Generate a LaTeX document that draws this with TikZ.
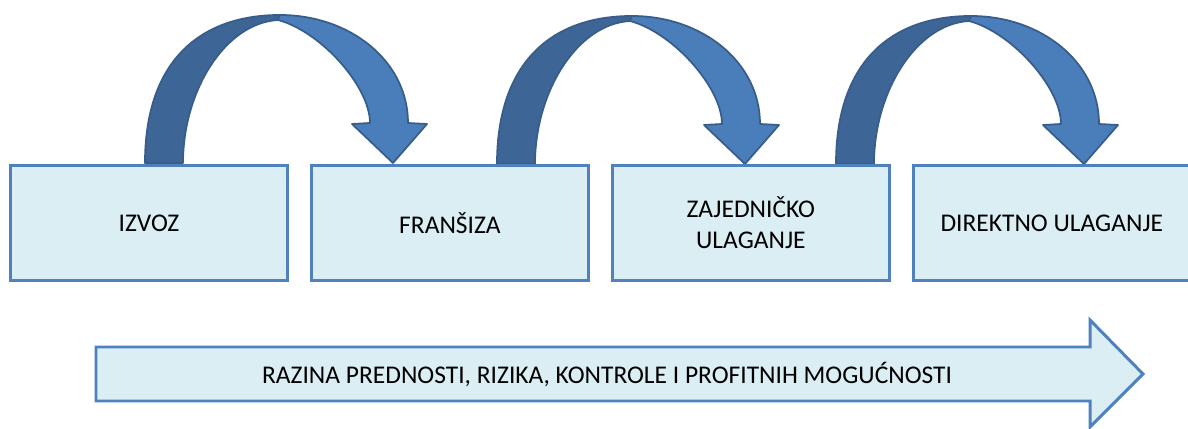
\documentclass[tikz,border=0pt]{standalone}
\usepackage{fontspec}
\setmainfont{Carlito}
\usepackage{tikz}
\usetikzlibrary{positioning}

\definecolor{boxfill}{HTML}{DBEEF4}
\definecolor{boxline}{HTML}{4F81BD}
\definecolor{arrowdark}{HTML}{3D6596}
\definecolor{arrowlight}{HTML}{4A7EBB}
\definecolor{arrowline}{HTML}{385D8A}

\tikzset{
	stage/.style={draw=boxline, line width=1.7pt, fill=boxfill, minimum width=5.54cm, minimum height=2.3cm, align=center, font=\fontsize{14.5}{17.5}\selectfont},
	ribbon/.style={draw=arrowline, line width=1pt, line join=round},
	bendarrow/.pic={
		\filldraw[ribbon, fill=arrowdark] (0,0) .. controls (0,-102) and (55,-148) .. (135,-148) -- (133,-143) .. controls (80,-140) and (38,-72) .. (38,0) -- cycle;
		\filldraw[ribbon, fill=arrowlight] (135,-148) .. controls (205,-148) and (263,-102) .. (263,-40) -- (282,-39) -- (248,0) -- (207,-39) -- (225,-40) .. controls (225,-77) and (175,-132) .. (133,-143) -- cycle;
	}
}

\begin{document}
\begin{tikzpicture}[x=0.02cm, y=-0.02cm, node distance=0.42cm]
	\useasboundingbox (0,0) rectangle (1188,429);
	% curved arrows between the stages
	\foreach \x/\y in {145/163, 497/164, 836/164}
	{ \pic at (\x,\y) {bendarrow};
	}
	% stages
	\node[stage] (izvoz) at (149,223) {IZVOZ};
	\node[stage, right=of izvoz] (fransiza) {FRANŠIZA};
	\node[stage, right=of fransiza] (zajednicko) {ZAJEDNIČKO\\ULAGANJE};
	\node[stage, right=of zajednicko] (direktno) {DIREKTNO ULAGANJE};
	% scale arrow
	\filldraw[draw=boxline, line width=1.7pt, fill=boxfill, line join=miter] (96,347) -- (1090,347) -- (1090,320) -- (1143,374) -- (1090,427) -- (1090,401) -- (96,401) -- cycle;
	\node[font=\fontsize{14.5}{17.5}\selectfont] (razina) at (607,374) {RAZINA PREDNOSTI, RIZIKA, KONTROLE I PROFITNIH MOGUĆNOSTI};
\end{tikzpicture}
\end{document}
